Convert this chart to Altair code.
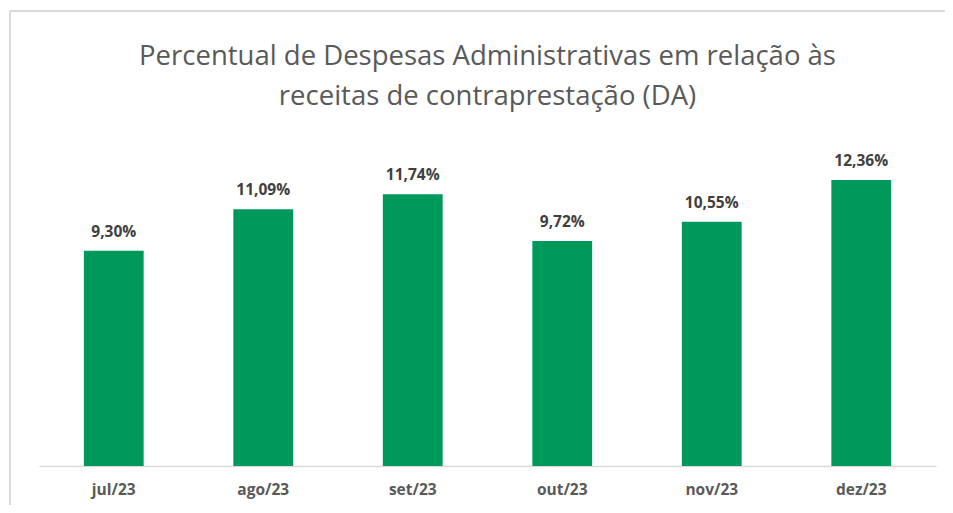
import altair as alt
import pandas as pd

months = ["jul/23", "ago/23", "set/23", "out/23", "nov/23", "dez/23"]
values = [9.30, 11.09, 11.74, 9.72, 10.55, 12.36]
labels = ["9,30%", "11,09%", "11,74%", "9,72%", "10,55%", "12,36%"]

df = pd.DataFrame({"mes": months, "valor": values, "rotulo": labels})

FONT = "Open Sans"

base = alt.Chart(df).encode(
    x=alt.X("mes:N", sort=months, title=None,
            scale=alt.Scale(paddingInner=0.6, paddingOuter=0.3),
            axis=alt.Axis(labelAngle=0, labelFont=FONT, labelFontSize=15.5,
                          labelFontWeight="bold", labelColor="#595959",
                          labelPadding=16, ticks=False, domainColor="#d9d9d9",
                          domainWidth=1.5)),
    y=alt.Y("valor:Q", scale=alt.Scale(domain=[0, 14], nice=False), axis=None),
)

bars = base.mark_bar(color="#00995C")
text = base.mark_text(baseline="alphabetic", dy=-14, font=FONT, fontSize=15.5,
                      fontWeight="bold", color="#404040").encode(text="rotulo:N")

border_left = alt.Chart(df).mark_rule(color="#d9d9d9", strokeWidth=2).encode(
    x=alt.value(-29), y=alt.value(-131), y2=alt.value(371))
border_top = alt.Chart(df).mark_rule(color="#d9d9d9", strokeWidth=2).encode(
    x=alt.value(-29), x2=alt.value(906), y=alt.value(-131))

chart = alt.layer(border_left, border_top, bars, text).properties(
    width=897, height=324,
    padding={"left": 31, "top": 134, "right": 9, "bottom": 39},
    autosize=alt.AutoSizeParams(type="none"),
    title=alt.Title(["Percentual de Despesas Administrativas em relação às",
                     "receitas de contraprestação (DA)"],
                    font=FONT, fontSize=27.5, fontWeight="normal", color="#595959",
                    lineHeight=40, anchor="middle", offset=-100),
).configure(background="white").configure_view(stroke=None)

chart.save("out.html", embed_options={"renderer": "svg", "actions": False})
